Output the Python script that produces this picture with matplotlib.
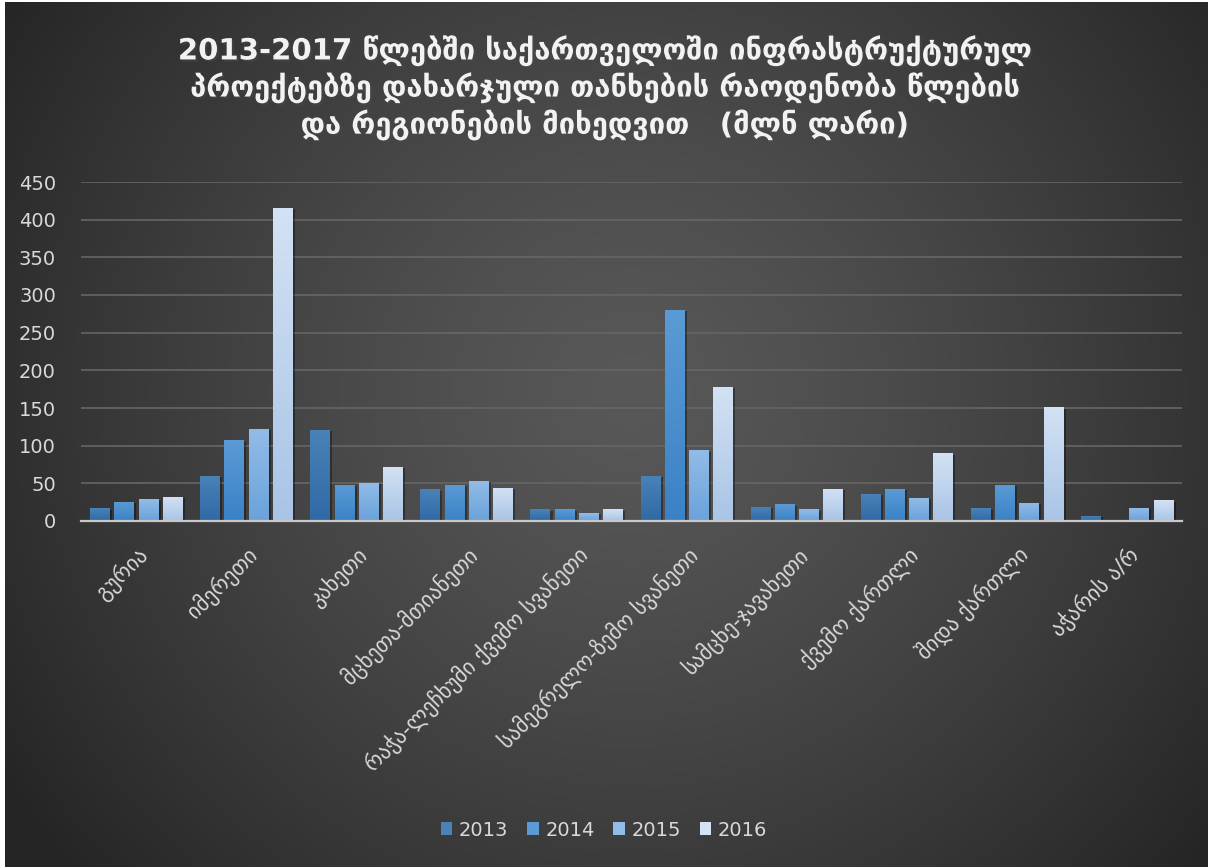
import matplotlib
matplotlib.use('Agg')
import matplotlib.pyplot as plt
import matplotlib.patheffects as pe
from matplotlib.colors import LinearSegmentedColormap
from matplotlib.patches import Patch
import numpy as np

# Spending on infrastructure projects by region and year (mln GEL)
regions = [
    'გურია',
    'იმერეთი',
    'კახეთი',
    'მცხეთა-მთიანეთი',
    'რაჭა-ლეჩხუმი ქვემო სვანეთი',
    'სამეგრელო-ზემო სვანეთი',
    'სამცხე-ჯავახეთი',
    'ქვემო ქართლი',
    'შიდა ქართლი',
    'აჭარის ა/რ',
]
years = ['2013', '2014', '2015', '2016']
v2013 = [17, 60, 121, 42, 15.5, 60, 18.5, 36, 17, 7]
v2014 = [25.5, 107, 48, 48, 15.5, 280, 22, 43, 48, 1]
v2015 = [29, 122, 51, 53, 10.5, 94, 15.5, 31, 24, 17.5]
v2016 = [32, 416, 72, 44, 15.5, 178, 43, 90, 151, 27.5]
series = [v2013, v2014, v2015, v2016]

# bottom / top colours of each series' gradient fill
fills = [('#2f6aa5', '#4a82b8'),
         ('#3a82c6', '#5b9bd5'),
         ('#6aa2da', '#92bce8'),
         ('#a9c4e6', '#d3e2f4')]

title = ('2013-2017 წლებში საქართველოში ინფრასტრუქტურულ\n'
         'პროექტებზე დახარჯული თანხების რაოდენობა წლების\n'
         'და რეგიონების მიხედვით   (მლნ ლარი)')

W, H = 1208, 867
fig = plt.figure(figsize=(W / 100, H / 100), dpi=100, facecolor='white')

# dark radial background
bg = fig.add_axes([5 / W, 0, 1 - 5 / W, 1 - 2 / H])
bg.set_axis_off()
yy, xx = np.mgrid[0:1:400j, 0:1:560j]
r = np.sqrt(((xx - 0.52) / 0.62) ** 2 + ((yy - 0.55) / 0.85) ** 2)
t = np.clip(r, 0, 1) ** 1.3
c_mid = np.array([0x58, 0x58, 0x58]) / 255
c_edge = np.array([0x25, 0x25, 0x25]) / 255
img = c_mid[None, None, :] * (1 - t[..., None]) + c_edge[None, None, :] * t[..., None]
bg.imshow(img, extent=[0, 1, 0, 1], aspect='auto', origin='lower')
bg.set_xlim(0, 1)
bg.set_ylim(0, 1)

ax = fig.add_axes([81 / W, 1 - 521 / H, (1182 - 81) / W, (521 - 182) / H])
ax.patch.set_alpha(0)

x = np.arange(len(regions))
step = 0.22
width = 0.175
grad = np.linspace(0, 1, 256).reshape(-1, 1)
for i, (vals, (c0, c1)) in enumerate(zip(series, fills)):
    pos = x + (i - 1.5) * step
    bars = ax.bar(pos, vals, width, color=c1, zorder=3, linewidth=0)
    cmap = LinearSegmentedColormap.from_list('g%d' % i, [c0, c1])
    for b in bars:
        b.set_path_effects([pe.SimplePatchShadow(offset=(2, -1), shadow_rgbFace='black', alpha=0.35), pe.Normal()])
        x0, w, h = b.get_x(), b.get_width(), b.get_height()
        im = ax.imshow(grad, extent=[x0, x0 + w, 0, h], origin='lower', cmap=cmap,
                       aspect='auto', zorder=4)
        im.set_clip_path(b)

ax.set_xlim(-0.5, len(regions) - 0.5)
ax.set_ylim(0, 450)
ax.set_yticks(np.arange(0, 451, 50))
ax.yaxis.grid(True, color='#666666', linewidth=1.2, zorder=0)
ax.set_axisbelow(True)
for s in ['top', 'right', 'left']:
    ax.spines[s].set_visible(False)
ax.spines['bottom'].set_color('#c8c8c8')
ax.spines['bottom'].set_linewidth(1.6)
ax.spines['bottom'].set_zorder(5)
ax.tick_params(axis='both', length=0, colors='#d9d9d9')
ax.tick_params(axis='y', labelsize=14, pad=18)
ax.set_xticks(x)
ax.set_xticklabels(regions, rotation=45, ha='right', rotation_mode='anchor',
                   fontsize=15.5, color='#d9d9d9')
ax.tick_params(axis='x', pad=16)

fig.text(0.5, 1 - 88 / H, title, ha='center', va='center', fontsize=21,
         fontweight='bold', color='#f2f2f2', linespacing=1.25,
         path_effects=[pe.withSimplePatchShadow(offset=(1.5, -1.5), alpha=0.5)])

handles = [Patch(facecolor=c1, edgecolor='none') for _, c1 in fills]
fig.legend(handles, years, loc='center', bbox_to_anchor=(0.5, 1 - 830 / H), ncol=4,
           frameon=False, fontsize=14, labelcolor='#d9d9d9', handlelength=0.6,
           handleheight=0.6, handletextpad=0.35, columnspacing=0.95)

fig.savefig('out.png', dpi=100, facecolor=fig.get_facecolor())
